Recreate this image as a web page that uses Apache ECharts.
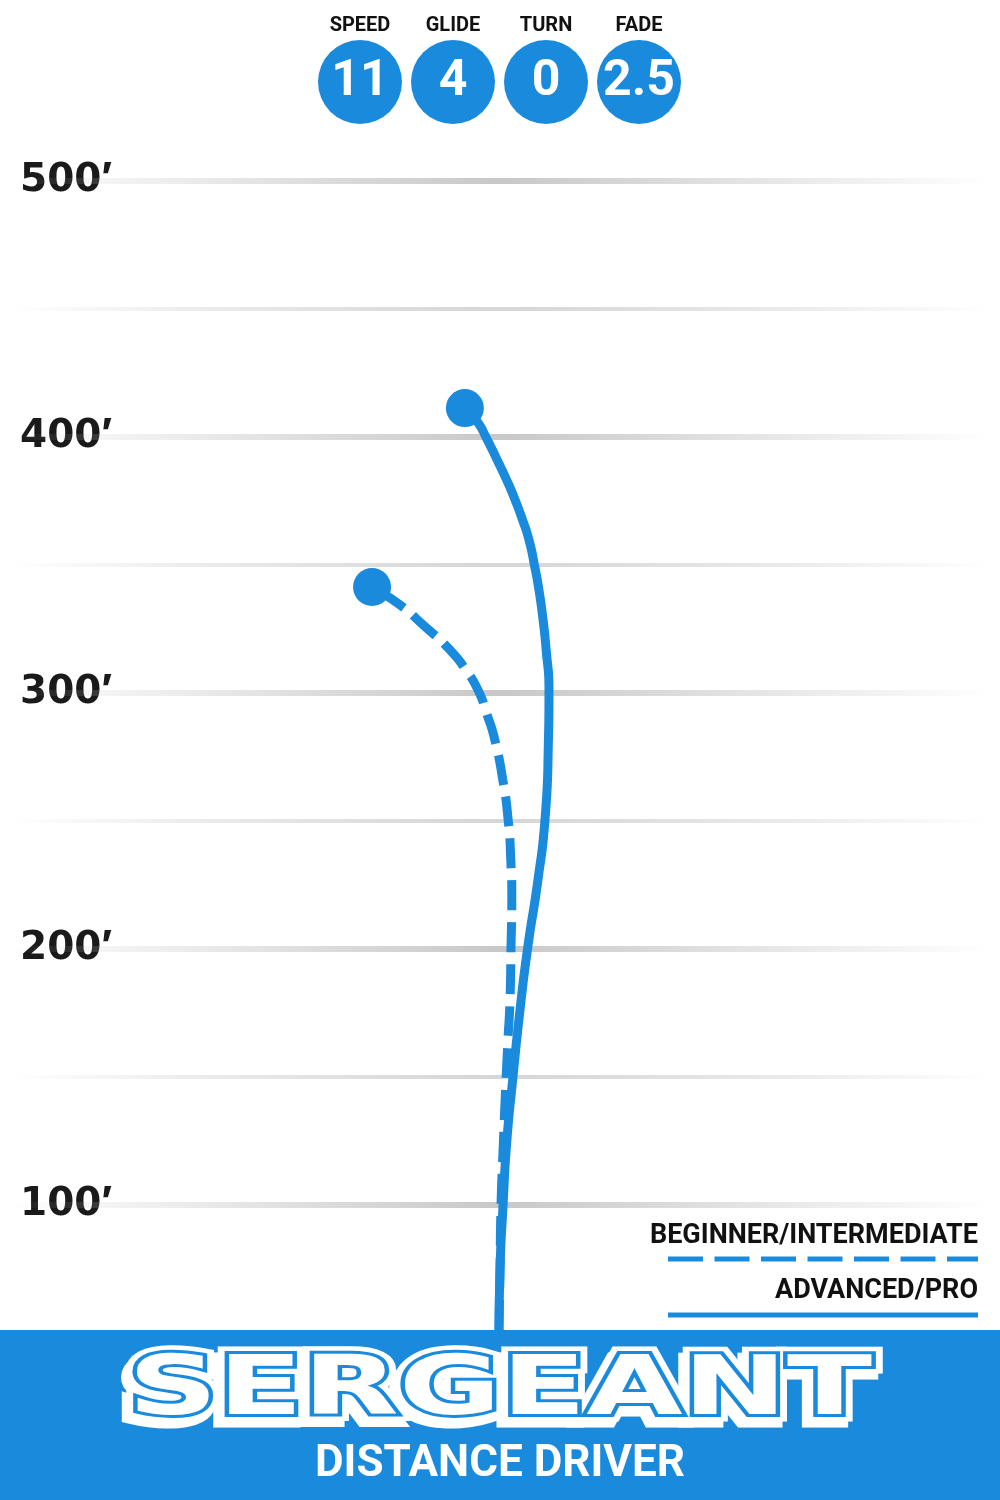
<!DOCTYPE html>
<html>
<head>
<meta charset="utf-8">
<style>
  html, body { margin: 0; padding: 0; background: #fff; }
  #main { width: 1000px; height: 1500px; }
</style>
<script src="https://cdn.jsdelivr.net/npm/echarts@6/dist/echarts.min.js"></script>
</head>
<body>
<div id="main"></div>
<script>
// disc ratings
var ratingNames = ['SPEED', 'GLIDE', 'TURN', 'FADE'];
var ratingValues = ['11', '4', '0', '2.5'];

// distance ticks (feet)
var distanceTicks = [100, 200, 300, 400, 500];
var halfTicks = [150, 250, 350, 450];

// flight paths: [lateral ft, distance ft]
var proPath = [
  [-0.4, 51.2], [0, 74.6], [1.2, 100], [2.7, 125.4], [5.1, 150.4], [7.8, 176.2],
  [10.9, 201.2], [14.8, 227], [17.6, 251.2], [18.8, 277.7], [19.1, 301.2], [18.0, 316.8],
  [16.8, 328.5], [15.2, 340.2], [13.5, 349.6], [11.3, 359.8], [8.8, 367.6], [5.9, 375.4],
  [2.6, 383.2], [-1.1, 391], [-5.1, 399.2], [-9.0, 406.2], [-13.7, 411.3]
];
var beginnerPath = [
  [-0.4, 51.2], [0, 74.6], [0.4, 100], [1.2, 121.5], [2.0, 141], [3.1, 164.5],
  [3.9, 180], [4.3, 201.2], [4.6, 219.1], [4.2, 234.8], [3.1, 251.2], [1.1, 266],
  [-2.0, 281.6], [-5.0, 291.4], [-8.6, 301.2], [-13.3, 309], [-19.5, 316.8],
  [-30.0, 326.6], [-39.0, 334.4], [-49.9, 341.4]
];

var blue = '#1a8bdc';

var myChart = echarts.init(document.getElementById('main'));

function gridLineSeries(v, major) {
  return {
    type: 'line',
    silent: true,
    symbol: 'none',
    z: 1,
    data: [[-190, v], [190, v]],
    lineStyle: {
      width: major ? 6 : 4,
      color: new echarts.graphic.LinearGradient(0, 0, 1, 0, [
        { offset: 0, color: 'rgba(200,200,200,0)' },
        { offset: 0.5, color: major ? '#c8c8c8' : '#d6d6d6' },
        { offset: 1, color: 'rgba(200,200,200,0)' }
      ])
    }
  };
}

var series = [];
distanceTicks.forEach(function (v) { series.push(gridLineSeries(v, true)); });
halfTicks.forEach(function (v) { series.push(gridLineSeries(v, false)); });

series.push({
  name: 'BEGINNER/INTERMEDIATE',
  type: 'line',
  smooth: 0.6,
  symbol: 'none',
  z: 3,
  data: beginnerPath,
  lineStyle: { color: blue, width: 9, type: [30, 12], cap: 'butt' }
});
series.push({
  name: 'ADVANCED/PRO',
  type: 'line',
  smooth: 0.6,
  symbol: 'none',
  z: 4,
  data: proPath,
  lineStyle: { color: blue, width: 9 }
});
series.push({
  type: 'scatter',
  z: 5,
  symbolSize: 38,
  itemStyle: { color: blue, opacity: 1 },
  data: [beginnerPath[beginnerPath.length - 1], proPath[proPath.length - 1]]
});

// rating circles
series.push({
  type: 'scatter',
  xAxisIndex: 1,
  yAxisIndex: 1,
  symbolSize: 84,
  itemStyle: { color: blue, opacity: 1 },
  label: {
    show: true,
    position: 'inside',
    formatter: '{b}',
    color: '#fff',
    fontFamily: 'Roboto',
    fontWeight: 'bold',
    fontSize: 50
  },
  data: ratingValues.map(function (v, i) { return { name: v, value: [i, 0.5] }; })
});

var logoFont = 'bold 82px "DejaVu Sans"';
function logoLayer(dx, dy, fill, stroke, lw) {
  var s = { text: 'SERGEANT', font: logoFont, align: 'center', verticalAlign: 'middle', fill: fill };
  if (stroke) { s.stroke = stroke; s.lineWidth = lw; s.lineJoin = 'round'; }
  return { type: 'text', x: dx, y: dy, z: 12, style: s };
}

var option = {
  backgroundColor: '#fff',
  animation: false,
  grid: [
    { left: 0, right: 0, top: 181, bottom: 39 },
    { left: 313.5, right: 314.5, top: 40, height: 84 }
  ],
  xAxis: [
    { type: 'value', min: -195, max: 195, show: false },
    {
      type: 'category',
      gridIndex: 1,
      position: 'top',
      data: ratingNames,
      axisLine: { show: false },
      axisTick: { show: false },
      axisLabel: {
        margin: 4,
        color: '#111',
        fontFamily: 'Roboto',
        fontWeight: 'bold',
        fontSize: 20
      }
    }
  ],
  yAxis: [
    {
      type: 'value',
      min: 0,
      max: 500,
      interval: 100,
      axisLine: { show: false },
      axisTick: { show: false },
      splitLine: { show: false },
      axisLabel: {
        inside: true,
        margin: 20,
        formatter: function (v) { return v === 0 ? '' : '{n|' + v + '}{p|\u2032}'; },
        rich: {
          n: { color: '#1a1a1a', fontFamily: 'DejaVu Sans', fontWeight: 'bold', fontSize: 39, lineHeight: 44 },
          p: { color: '#1a1a1a', fontFamily: 'Liberation Sans', fontWeight: 'bold', fontSize: 44, lineHeight: 44 }
        }
      }
    },
    { type: 'value', gridIndex: 1, min: 0, max: 1, show: false }
  ],
  series: series,
  graphic: [
    // legend
    {
      type: 'text', x: 978, y: 1236,
      style: { text: 'BEGINNER/INTERMEDIATE', fill: '#111', font: 'bold 27px Roboto', align: 'right', verticalAlign: 'middle' }
    },
    {
      type: 'line', shape: { x1: 668, y1: 1259, x2: 978, y2: 1259 },
      style: { stroke: blue, lineWidth: 5, lineDash: [35, 11.5] }
    },
    {
      type: 'text', x: 978, y: 1291,
      style: { text: 'ADVANCED/PRO', fill: '#111', font: 'bold 27px Roboto', align: 'right', verticalAlign: 'middle' }
    },
    {
      type: 'line', shape: { x1: 668, y1: 1315, x2: 978, y2: 1315 },
      style: { stroke: blue, lineWidth: 5 }
    },
    // bottom band
    {
      type: 'rect', shape: { x: 0, y: 1330, width: 1000, height: 170 },
      style: { fill: blue }, z: 10
    },
    {
      type: 'group', x: 500, y: 1393, scaleX: 1.52, z: 12,
      children: [
        logoLayer(-3, 6, '#fff', '#fff', 15),
        logoLayer(0, 0, '#fff', '#fff', 15),
        logoLayer(0, 0, blue, blue, 6),
        logoLayer(0, 0, '#fff', null, 0)
      ]
    },
    {
      type: 'text', x: 500, y: 1465, z: 12,
      style: { text: 'DISTANCE DRIVER', font: 'bold 44px Roboto', align: 'center', verticalAlign: 'middle', fill: '#fff' }
    }
  ]
};

myChart.setOption(option);
</script>
</body>
</html>
